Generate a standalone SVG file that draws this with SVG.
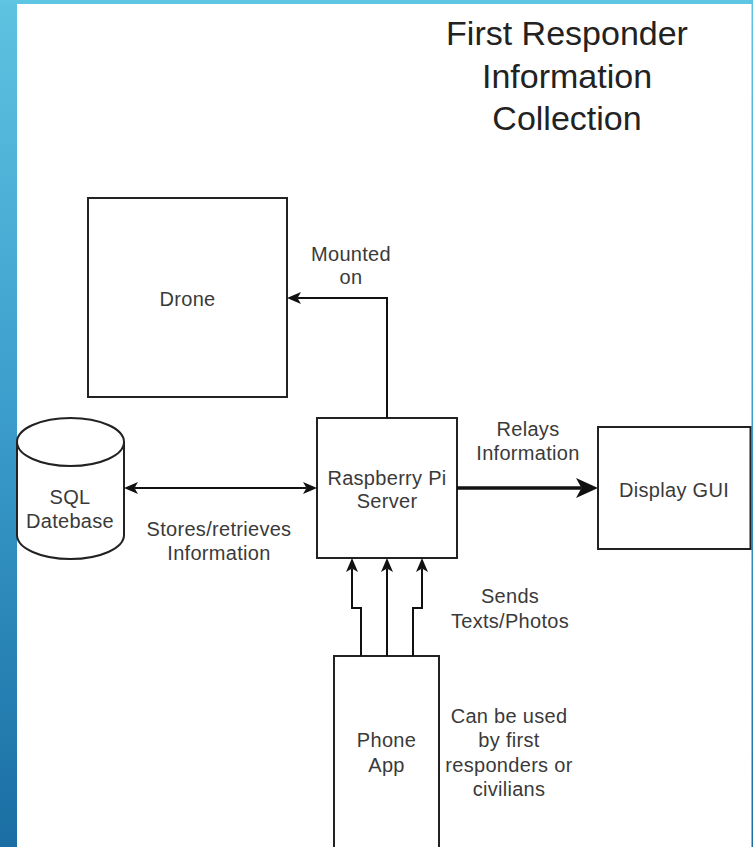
<svg xmlns="http://www.w3.org/2000/svg" width="753" height="847" viewBox="0 0 753 847">
  <defs>
    <linearGradient id="blue" gradientUnits="userSpaceOnUse" x1="0" y1="0" x2="0" y2="847">
      <stop offset="0" stop-color="#5dc3e1"/>
      <stop offset="0.5" stop-color="#3a9ccb"/>
      <stop offset="1" stop-color="#1a6ea3"/>
    </linearGradient>
    <marker id="arr" markerUnits="userSpaceOnUse" viewBox="0 0 14 12" markerWidth="14" markerHeight="12" refX="3.5" refY="6" orient="auto-start-reverse">
      <path d="M0,0 L14,6 L0,12 L3.5,6 Z" fill="#111"/>
    </marker>
    <marker id="arrBig" markerUnits="userSpaceOnUse" viewBox="0 0 22 20" markerWidth="22" markerHeight="20" refX="5.5" refY="10" orient="auto">
      <path d="M0,0 L22,10 L0,20 L5.5,10 Z" fill="#111"/>
    </marker>
  </defs>
  <style>
    .box { fill: #fff; stroke: #222; stroke-width: 2; }
    .lbl { font-family: 'Liberation Sans', sans-serif; font-size: 20px; fill: #3a3a3a; text-anchor: middle; letter-spacing: 0.3px; }
    .title { font-family: 'Liberation Sans', sans-serif; font-size: 34px; fill: #222; text-anchor: middle; }
    .edge { fill: none; stroke: #111; stroke-width: 2; }
  </style>

  <rect x="0" y="0" width="753" height="847" fill="#fff"/>
  <g id="frame">
    <rect x="0" y="0" width="17" height="847" fill="url(#blue)"/>
    <rect x="0" y="0" width="753" height="4" fill="#5ec5e2"/>
    <rect x="751.5" y="0" width="1.5" height="847" fill="url(#blue)"/>
  </g>

  <g id="title">
    <text class="title" x="567" y="45">First Responder</text>
    <text class="title" x="567" y="88">Information</text>
    <text class="title" x="567" y="130">Collection</text>
  </g>

  <g id="drone">
    <rect class="box" x="88" y="198" width="199" height="199"/>
    <text class="lbl" x="187.5" y="306">Drone</text>
  </g>

  <g id="sql">
    <path class="box" d="M17,442 A53.5,24 0 0 1 124,442 V535 A53.5,24 0 0 1 17,535 Z"/>
    <path class="box" fill="none" d="M17,442 A53.5,24 0 0 0 124,442"/>
    <text class="lbl" x="70" y="504">SQL</text>
    <text class="lbl" x="70" y="528">Datebase</text>
  </g>

  <g id="pi">
    <rect class="box" x="317" y="418" width="140" height="140"/>
    <text class="lbl" x="387" y="485">Raspberry Pi</text>
    <text class="lbl" x="387" y="508">Server</text>
  </g>

  <g id="gui">
    <rect class="box" x="598" y="427" width="152.5" height="122"/>
    <text class="lbl" x="674" y="497">Display GUI</text>
  </g>

  <g id="phone">
    <rect class="box" x="334" y="656" width="105" height="210"/>
    <text class="lbl" x="386.5" y="747">Phone</text>
    <text class="lbl" x="386.5" y="772">App</text>
  </g>

  <g id="connectors">
    <path class="edge" d="M387,418 V298 H297.5" marker-end="url(#arr)"/>
    <path class="edge" d="M134.5,488 H306.5" marker-start="url(#arr)" marker-end="url(#arr)"/>
    <path class="edge" style="stroke-width:3.5" d="M457,488 H581.5" marker-end="url(#arrBig)"/>
    <path class="edge" d="M361,656 V608 H352 V568.5" marker-end="url(#arr)"/>
    <path class="edge" d="M387,656 V568.5" marker-end="url(#arr)"/>
    <path class="edge" d="M413,656 V608 H422 V568.5" marker-end="url(#arr)"/>
  </g>

  <g id="edge-labels">
    <text class="lbl" x="351" y="261">Mounted</text>
    <text class="lbl" x="351" y="284">on</text>
    <text class="lbl" x="219" y="536">Stores/retrieves</text>
    <text class="lbl" x="219" y="560">Information</text>
    <text class="lbl" x="528" y="436">Relays</text>
    <text class="lbl" x="528" y="460">Information</text>
    <text class="lbl" x="510" y="603">Sends</text>
    <text class="lbl" x="510" y="628">Texts/Photos</text>
    <text class="lbl" x="509" y="723">Can be used</text>
    <text class="lbl" x="509" y="747">by first</text>
    <text class="lbl" x="509" y="772">responders or</text>
    <text class="lbl" x="509" y="796">civilians</text>
  </g>
</svg>
